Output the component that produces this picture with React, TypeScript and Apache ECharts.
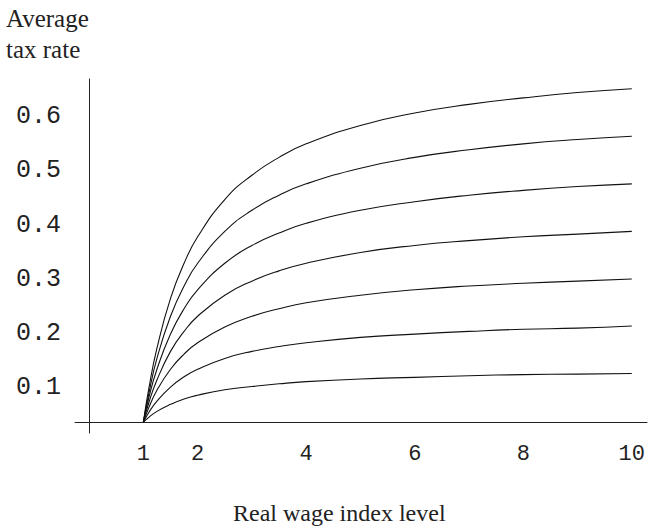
import React, { useEffect, useRef } from "react";
import * as echarts from "echarts";

// Real wage index level (x) sample points
const wageLevels = [1, 1.1, 1.25, 1.5, 1.75, 2, 2.5, 3, 3.5, 4, 5, 6, 7, 8, 9, 10];

// Average tax rate curves (top to bottom)
const curve1 = [0, 0.062, 0.137, 0.229, 0.294, 0.343, 0.412, 0.457, 0.49, 0.515, 0.549, 0.572, 0.588, 0.6, 0.61, 0.617];
const curve2 = [0, 0.053, 0.118, 0.196, 0.252, 0.294, 0.353, 0.392, 0.42, 0.441, 0.47, 0.49, 0.504, 0.515, 0.523, 0.529];
const curve3 = [0, 0.045, 0.098, 0.163, 0.21, 0.245, 0.294, 0.327, 0.35, 0.368, 0.392, 0.408, 0.42, 0.429, 0.436, 0.441];
const curve4 = [0, 0.036, 0.078, 0.131, 0.168, 0.196, 0.235, 0.261, 0.28, 0.294, 0.314, 0.327, 0.336, 0.343, 0.348, 0.353];
const curve5 = [0, 0.027, 0.059, 0.098, 0.126, 0.147, 0.176, 0.196, 0.21, 0.221, 0.235, 0.245, 0.252, 0.257, 0.261, 0.265];
const curve6 = [0, 0.018, 0.039, 0.065, 0.084, 0.098, 0.118, 0.131, 0.14, 0.147, 0.157, 0.163, 0.168, 0.172, 0.174, 0.178];
const curve7 = [0, 0.009, 0.02, 0.033, 0.043, 0.05, 0.06, 0.066, 0.071, 0.075, 0.08, 0.083, 0.086, 0.088, 0.089, 0.09];

const curves = [curve1, curve2, curve3, curve4, curve5, curve6, curve7];

// Tick labels shown
const xTickLabels = [1, 2, 4, 6, 8, 10];
const yTickLabels = [0.1, 0.2, 0.3, 0.4, 0.5, 0.6];

const yTitle = "Average\ntax rate";
const xTitle = "Real wage index level";

export default function App() {
  const ref = useRef<HTMLDivElement>(null);

  useEffect(() => {
    document.body.style.margin = "0";
    const chart = echarts.init(ref.current!, null, { renderer: "svg" });
    const axisColor = "#222";
    const labelFont = "'Liberation Mono', 'DejaVu Sans Mono', monospace";
    const serif = "'Liberation Serif', 'DejaVu Serif', serif";

    chart.setOption({
      animation: false,
      backgroundColor: "#ffffff",
      title: [
        {
          text: yTitle,
          left: 6,
          top: 3,
          padding: 0,
          textStyle: {
            fontFamily: serif,
            fontSize: 25,
            fontWeight: "normal",
            color: "#222",
            lineHeight: 31,
          },
        },
        {
          text: xTitle,
          left: 233,
          top: 500,
          padding: 0,
          textStyle: {
            fontFamily: serif,
            fontSize: 24,
            fontWeight: "normal",
            color: "#222",
            lineHeight: 26,
          },
        },
      ],
      grid: { left: 75, right: 8, top: 79, bottom: 95, containLabel: false },
      xAxis: {
        type: "value",
        min: -0.26,
        max: 10.28,
        minInterval: 1,
        maxInterval: 1,
        axisLine: { show: true, onZero: true, lineStyle: { color: axisColor, width: 1 } },
        axisTick: { show: false },
        splitLine: { show: false },
        axisLabel: {
          margin: 10,
          fontFamily: labelFont,
          fontSize: 22,
          lineHeight: 22,
          color: "#222",
          showMinLabel: true,
          showMaxLabel: true,
          formatter: (v: number) =>
            xTickLabels.some((t) => Math.abs(t - v) < 1e-6) ? String(Math.round(v)) : "",
        },
      },
      yAxis: {
        type: "value",
        min: -0.02,
        max: 0.635,
        minInterval: 0.1,
        maxInterval: 0.1,
        axisLine: { show: true, onZero: true, lineStyle: { color: axisColor, width: 1 } },
        axisTick: { show: false },
        splitLine: { show: false },
        axisLabel: {
          margin: 14,
          fontFamily: labelFont,
          fontSize: 25,
          lineHeight: 24,
          verticalAlign: "top",
          padding: [7, 0, 0, 0],
          color: "#222",
          formatter: (v: number) =>
            yTickLabels.some((t) => Math.abs(t - v) < 1e-6) ? v.toFixed(1) : "",
        },
      },
      series: curves.map((c, i) => ({
        name: "curve" + (i + 1),
        type: "line",
        data: wageLevels.map((x, j) => [x, c[j]]),
        smooth: true,
        showSymbol: false,
        lineStyle: { color: "#111", width: 1.1 },
        z: 3,
      })),
    });
    return () => chart.dispose();
  }, []);

  return <div ref={ref} style={{ width: 655, height: 528 }} />;
}
